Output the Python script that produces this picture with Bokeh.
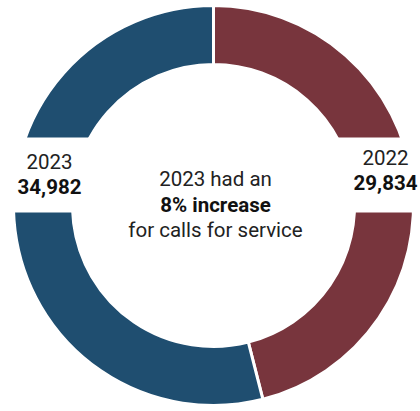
import math
from bokeh.plotting import figure
from bokeh.models import ColumnDataSource, Range1d
from bokeh.core.properties import value
from bokeh.embed import file_html
from bokeh.resources import INLINE

years = ["2022", "2023"]
calls = [29834, 34982]
colors = ["#78353D", "#1F4E70"]
center_lines = ["2023 had an", "8% increase", "for calls for service"]

W, H = 420, 411
OFF = 0

def fx(x):
    return x - OFF

def fy(y):
    return H - (y - OFF)

total = sum(calls)
a = math.pi / 2
f22 = calls[0] / total
starts = [a - f22 * 2 * math.pi, a]
ends = [a, a - f22 * 2 * math.pi + 2 * math.pi]

src = ColumnDataSource(dict(year=years, calls=calls, color=colors, start=starts, end=ends))

p = figure(width=W, height=H, output_backend="svg", toolbar_location=None,
           x_range=Range1d(0, W), y_range=Range1d(0, H), min_border=0)
p.axis.visible = False
p.grid.visible = False
p.outline_line_color = None
p.background_fill_color = "white"
p.border_fill_color = "white"

cx, cy = fx(213), fy(205)
p.annular_wedge(x=cx, y=cy, inner_radius=141, outer_radius=200,
                start_angle="start", end_angle="end", fill_color="color",
                line_color="white", line_width=3, source=src)

# white label boxes
p.quad(left=[fx(0), fx(330)], right=[fx(100), fx(425)],
       bottom=[fy(212), fy(212)], top=[fy(137), fy(137)],
       fill_color="white", line_color=None)

font = value("Roboto")
txt = "#222222"
lab_year = [f"{years[0]}", f"{years[1]}"]
lab_val = [f"{calls[0]:,}", f"{calls[1]:,}"]
p.text(x=[fx(385), fx(49)], y=[fy(157), fy(161)], text=lab_year,
       text_font=font, text_font_size="20.5px", text_align="center",
       text_baseline="middle", text_color=txt)
p.text(x=[fx(385), fx(49)], y=[fy(182), fy(186)], text=lab_val,
       text_font=font, text_font_size="20.5px", text_font_style="bold",
       text_align="center", text_baseline="middle", text_color="#111111")

p.text(x=[fx(215)], y=[fy(178)], text=[center_lines[0]], text_font=font,
       text_font_size="20.5px", text_align="center", text_baseline="middle", text_color=txt)
p.text(x=[fx(215)], y=[fy(204)], text=[center_lines[1]], text_font=font,
       text_font_size="20.5px", text_font_style="bold", text_align="center",
       text_baseline="middle", text_color="#111111")
p.text(x=[fx(215)], y=[fy(229)], text=[center_lines[2]], text_font=font,
       text_font_size="20.5px", text_align="center", text_baseline="middle", text_color=txt)

open("out.html", "w").write(file_html(p, INLINE))
